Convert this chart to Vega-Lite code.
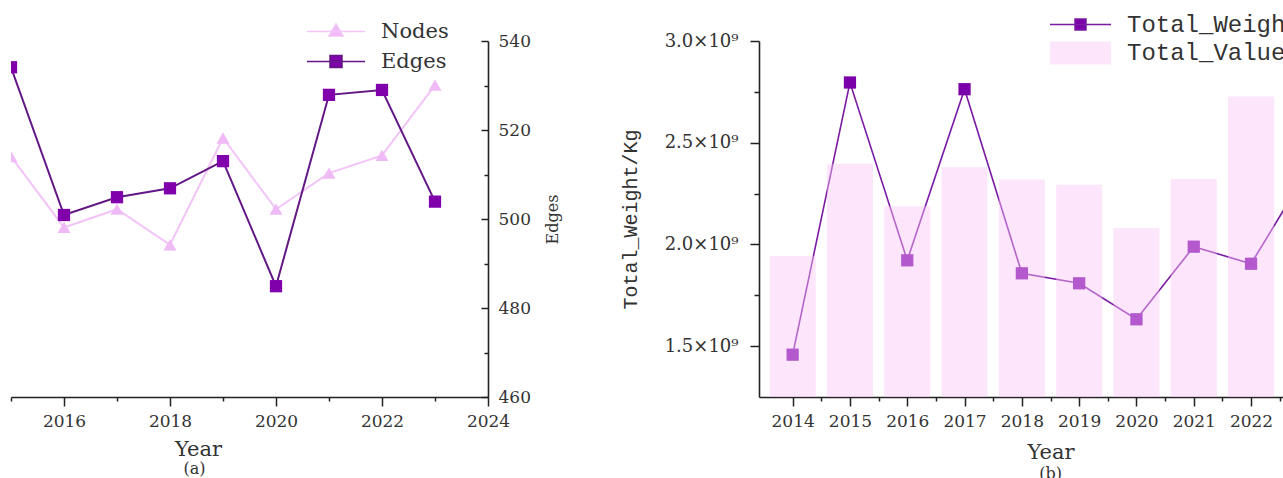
{
  "$schema": "https://vega.github.io/schema/vega-lite/v6.json",
  "background": "white",
  "padding": {"left": 10, "top": 12, "right": 0, "bottom": 0},
  "bounds": "flush",
  "spacing": 271,
  "config": {
    "view": {"stroke": null},
    "axis": {
      "grid": false,
      "domainColor": "#222222",
      "domainWidth": 1.6,
      "tickColor": "#222222",
      "tickWidth": 1.5,
      "labelColor": "#333333",
      "titleColor": "#333333",
      "titleFontWeight": "normal",
      "labelFont": "DejaVu Serif",
      "titleFont": "DejaVu Serif",
      "labelFlush": false,
      "labelOverlap": false
    },
    "legend": {"padding": 0, "titlePadding": 0, "labelLimit": 400}
  },
  "resolve": {
    "scale": {"x": "independent", "y": "independent", "color": "independent", "stroke": "independent", "fill": "independent"},
    "legend": {"color": "independent", "stroke": "independent", "fill": "independent"}
  },
  "hconcat": [
    {
      "width": 477,
      "height": 356,
      "data": {"values": [
        {"Year": 2015, "Nodes": 514.0, "Edges": 534.1},
        {"Year": 2016, "Nodes": 498.1, "Edges": 500.9},
        {"Year": 2017, "Nodes": 502.2, "Edges": 504.9},
        {"Year": 2018, "Nodes": 494.2, "Edges": 506.9},
        {"Year": 2019, "Nodes": 518.2, "Edges": 513.0},
        {"Year": 2020, "Nodes": 502.2, "Edges": 484.9},
        {"Year": 2021, "Nodes": 510.3, "Edges": 527.9},
        {"Year": 2022, "Nodes": 514.3, "Edges": 529.0},
        {"Year": 2023, "Nodes": 530.1, "Edges": 503.9}
      ]},
      "title": {"text": "(a)", "orient": "bottom", "anchor": "middle", "dx": -55, "offset": 2, "font": "DejaVu Serif", "fontSize": 16, "fontWeight": "normal", "color": "#333333"},
      "encoding": {
        "x": {
          "field": "Year", "type": "quantitative",
          "scale": {"domain": [2015, 2024], "nice": false, "zero": false},
          "axis": {
            "values": [2015, 2016, 2017, 2018, 2019, 2020, 2021, 2022, 2023, 2024],
            "format": "d",
            "labelExpr": "datum.value % 2 == 0 ? datum.label : ''",
            "tickSize": {"condition": {"test": "datum.value % 2 == 0", "value": 9}, "value": 4},
            "labelPadding": 7,
            "labelFontSize": 17,
            "title": "Year",
            "titleFontSize": 21,
            "titleX": 187,
            "titlePadding": 9
          }
        }
      },
      "layer": [
        {
          "mark": {"type": "line", "clip": true, "strokeWidth": 2},
          "encoding": {
            "y": {
              "field": "Nodes", "type": "quantitative",
              "scale": {"domain": [460, 540], "nice": false, "zero": false},
              "axis": {
                "orient": "right",
                "title": "Edges",
                "values": [460, 470, 480, 490, 500, 510, 520, 530, 540],
                "labelExpr": "datum.value % 20 == 0 ? datum.label : ''",
                "tickSize": {"condition": {"test": "datum.value % 20 == 0", "value": -7}, "value": -4},
                "labelPadding": 17,
                "labelFontSize": 17,
                "titleFontSize": 16,
                "titleAngle": 270,
                "titlePadding": 30
              }
            },
            "stroke": {
              "datum": "Nodes", "type": "nominal",
              "scale": {"domain": ["Nodes"], "range": ["#f2c4f7"]},
              "legend": {
                "orient": "none", "legendX": 314, "legendY": -20.5, "title": null,
                "symbolType": "M-2.9,0H2.9M0,-0.75L0.7,0.45L-0.7,0.45Z",
                "symbolSize": 400, "symbolStrokeWidth": 1.5,
                "labelFont": "DejaVu Serif", "labelFontSize": 21, "labelColor": "#333333", "labelOffset": 34,
                "encode": {"symbols": {"update": {"fill": {"value": "#efbaf5"}, "stroke": {"value": "#f2c4f7"}}}}
              }
            }
          }
        },
        {
          "mark": {"type": "point", "shape": "triangle-up", "filled": true, "size": 170, "color": "#efbaf5", "opacity": 1, "clip": true},
          "encoding": {"y": {"field": "Nodes", "type": "quantitative"}}
        },
        {
          "mark": {"type": "line", "clip": true, "strokeWidth": 2},
          "encoding": {
            "y": {"field": "Edges", "type": "quantitative"},
            "color": {
              "datum": "Edges", "type": "nominal",
              "scale": {"domain": ["Edges"], "range": ["#631785"]},
              "legend": {
                "orient": "none", "legendX": 314, "legendY": 9.5, "title": null,
                "symbolType": "M-2.9,0H2.9M-0.6,-0.6H0.6V0.6H-0.6Z",
                "symbolSize": 400, "symbolStrokeWidth": 1.5,
                "labelFont": "DejaVu Serif", "labelFontSize": 21, "labelColor": "#333333", "labelOffset": 34,
                "encode": {"symbols": {"update": {"fill": {"value": "#8000ac"}, "stroke": {"value": "#631785"}}}}
              }
            }
          }
        },
        {
          "mark": {"type": "point", "shape": "square", "filled": true, "size": 150, "color": "#8000ac", "opacity": 1, "clip": true},
          "encoding": {"y": {"field": "Edges", "type": "quantitative"}}
        }
      ]
    },
    {
      "width": 583,
      "height": 356,
      "data": {"values": [
        {"Year": 2014, "Total_Weight": 1458000000, "Total_Value": 1943000000},
        {"Year": 2015, "Total_Weight": 2796000000, "Total_Value": 2397000000},
        {"Year": 2016, "Total_Weight": 1922000000, "Total_Value": 2188000000},
        {"Year": 2017, "Total_Weight": 2763000000, "Total_Value": 2379000000},
        {"Year": 2018, "Total_Weight": 1858000000, "Total_Value": 2319000000},
        {"Year": 2019, "Total_Weight": 1809000000, "Total_Value": 2293000000},
        {"Year": 2020, "Total_Weight": 1632000000, "Total_Value": 2080000000},
        {"Year": 2021, "Total_Weight": 1989000000, "Total_Value": 2322000000},
        {"Year": 2022, "Total_Weight": 1905000000, "Total_Value": 2727000000},
        {"Year": 2023, "Total_Weight": 2369000000, "Total_Value": null}
      ]},
      "title": {"text": "(b)", "orient": "bottom", "anchor": "middle", "offset": 4, "font": "DejaVu Serif", "fontSize": 16, "fontWeight": "normal", "color": "#333333"},
      "encoding": {
        "x": {
          "field": "Year", "type": "quantitative",
          "scale": {"domain": [2013.5, 2023.5], "nice": false, "zero": false},
          "axis": {
            "values": [2014, 2014.5, 2015, 2015.5, 2016, 2016.5, 2017, 2017.5, 2018, 2018.5, 2019, 2019.5, 2020, 2020.5, 2021, 2021.5, 2022, 2022.5, 2023, 2023.5],
            "labelExpr": "datum.value % 1 == 0 ? format(datum.value, 'd') : ''",
            "tickSize": {"condition": {"test": "datum.value % 1 == 0", "value": 9}, "value": 4},
            "labelPadding": 7,
            "labelFontSize": 17,
            "title": "Year",
            "titleFontSize": 21,
            "titlePadding": 12
          }
        }
      },
      "layer": [
        {
          "mark": {"type": "line", "strokeWidth": 1.6},
          "encoding": {
            "y": {
              "field": "Total_Weight", "type": "quantitative",
              "scale": {"domain": [1250000000, 3000000000], "nice": false, "zero": false},
              "axis": {
                "title": "Total_Weight/Kg",
                "values": [1500000000, 1750000000, 2000000000, 2250000000, 2500000000, 2750000000, 3000000000],
                "labelExpr": "datum.value % 500000000 == 0 ? format(datum.value / 1000000000, '.1f') + '×10⁹' : ''",
                "tickSize": {"condition": {"test": "datum.value % 500000000 == 0", "value": 9}, "value": 5},
                "labelPadding": 12,
                "labelFontSize": 18,
                "titleFont": "Liberation Mono",
                "titleFontSize": 20,
                "titlePadding": 24
              }
            },
            "color": {
              "datum": "Total_Weight", "type": "nominal",
              "scale": {"domain": ["Total_Weight"], "range": ["#7b1aa3"]},
              "legend": {
                "orient": "none", "legendX": 309.5, "legendY": -28.5, "title": null,
                "symbolType": "M-3.05,0H3.05M-0.55,-0.55H0.55V0.55H-0.55Z",
                "symbolSize": 400, "symbolStrokeWidth": 1.5,
                "labelFont": "Liberation Mono", "labelFontSize": 24, "labelColor": "#333333", "labelOffset": 34.5,
                "encode": {"symbols": {"update": {"fill": {"value": "#7a00aa"}, "stroke": {"value": "#7b1aa3"}}}}
              }
            }
          }
        },
        {
          "mark": {"type": "point", "shape": "square", "filled": true, "size": 150, "color": "#7a00aa", "opacity": 1},
          "encoding": {"y": {"field": "Total_Weight", "type": "quantitative"}}
        },
        {
          "mark": {"type": "bar", "size": 46, "opacity": 0.45, "clip": true},
          "encoding": {
            "y": {"field": "Total_Value", "type": "quantitative"},
            "fill": {
              "datum": "Total_Value", "type": "nominal",
              "scale": {"domain": ["Total_Value"], "range": ["#fbc6f8"]},
              "legend": {
                "orient": "none", "legendX": 309.5, "legendY": 0, "title": null,
                "symbolType": "M-3.05,-1.15H3.05V1.15H-3.05Z",
                "symbolSize": 400, "symbolStrokeWidth": 0,
                "labelFont": "Liberation Mono", "labelFontSize": 24, "labelColor": "#333333", "labelOffset": 34.5,
                "encode": {"symbols": {"update": {"fill": {"value": "#fbc6f8"}, "opacity": {"value": 0.45}}}}
              }
            }
          }
        }
      ]
    }
  ]
}
